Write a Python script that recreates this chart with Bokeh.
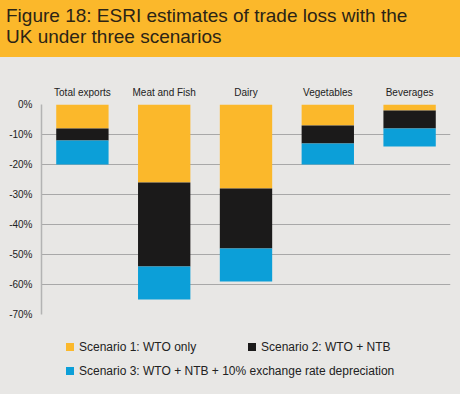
from bokeh.plotting import figure
from bokeh.layouts import column
from bokeh.models import ColumnDataSource, FactorRange, Range1d, FixedTicker, Div
from bokeh.embed import file_html
from bokeh.resources import INLINE

categories = ["Total exports", "Meat and Fish", "Dairy", "Vegetables", "Beverages"]
# cumulative trade loss (%) under each scenario
scenario1 = [-8, -26, -28, -7, -2]
scenario2 = [-12, -54, -48, -13, -8]
scenario3 = [-20, -65, -59, -20, -14]
series_names = ["Scenario 1: WTO only", "Scenario 2: WTO + NTB",
                "Scenario 3: WTO + NTB + 10% exchange rate depreciation"]
y_ticks = [0, -10, -20, -30, -40, -50, -60, -70]
y_tick_labels = ["0%", "-10%", "-20%", "-30%", "-40%", "-50%", "-60%", "-70%"]
title_lines = ["Figure 18: ESRI estimates of trade loss with the", "UK under three scenarios"]

BG = "#e8e7e5"
YELLOW = "#fbb82b"
BLACK = "#1b1a1a"
BLUE = "#0c9fd8"
COLORS = [YELLOW, BLACK, BLUE]
FONT = "Liberation Sans"
W, H = 460, 394
ML, MR = 41, 10

# ---- title band ----
TH = 57
title = Div(text="<div style=\"padding:4.5px 0 0 6px; margin:0; font-family:'Liberation Sans',Arial,sans-serif; "
                 "font-size:19px; line-height:21.4px; color:#2b2416; white-space:nowrap;\">"
                 + "<br>".join(title_lines) + "</div>",
            width=W, height=TH, margin=0,
            styles={"background-color": YELLOW, "overflow": "hidden"})

# ---- main chart ----
MT, FH, MB = 47, 210, 16
p = figure(width=W, height=MT + FH + MB, x_range=FactorRange(*categories, range_padding=0),
           y_range=Range1d(-70, 0), x_axis_location="above",
           output_backend="svg", toolbar_location=None,
           min_border_left=ML, min_border_right=MR, min_border_top=MT, min_border_bottom=MB)
p.background_fill_color = BG
p.border_fill_color = BG
p.outline_line_color = None

src = ColumnDataSource(dict(cat=categories, s0=[0] * len(categories),
                            s1=scenario1, s2=scenario2, s3=scenario3))
bw = 0.64
p.vbar(x="cat", bottom="s0", top="s1", width=bw, source=src, fill_color=YELLOW, line_color=None)
p.vbar(x="cat", bottom="s1", top="s2", width=bw, source=src, fill_color=BLACK, line_color=None)
p.vbar(x="cat", bottom="s2", top="s3", width=bw, source=src, fill_color=BLUE, line_color=None)

xa = p.xaxis[0]
xa.axis_line_color = None
xa.major_tick_line_color = None
xa.minor_tick_line_color = None
xa.major_tick_out = 0
xa.major_label_standoff = 7
xa.major_label_text_font = FONT
xa.major_label_text_font_size = "10px"
xa.major_label_text_color = "#222222"

ya = p.yaxis[0]
ya.ticker = FixedTicker(ticks=y_ticks)
ya.major_label_overrides = {t: l for t, l in zip(y_ticks, y_tick_labels)}
ya.axis_line_color = "#b3b3b3"
ya.axis_line_width = 1.5
ya.major_tick_line_color = None
ya.minor_tick_line_color = None
ya.major_tick_out = 0
ya.major_label_standoff = 9
ya.major_label_text_font = FONT
ya.major_label_text_font_size = "10px"
ya.major_label_text_color = "#222222"

p.xgrid.grid_line_color = None
p.ygrid.ticker = FixedTicker(ticks=y_ticks)
p.ygrid.grid_line_color = "#a8a8a8"
p.ygrid.grid_line_width = 1

# ---- legend strip (HTML) ----
LH = H - TH - (MT + FH + MB)
legend_pos = [(66, 13), (248, 13), (66, 37)]  # swatch left/top within the strip
parts = []
for name, col, (lx, ty) in zip(series_names, COLORS, legend_pos):
    parts.append(f"<span style=\"position:absolute; left:{lx}px; top:{ty}px; width:8px; height:8px; "
                 f"background:{col};\"></span>")
    parts.append(f"<span style=\"position:absolute; left:{lx + 13}px; top:{ty - 3}px; line-height:14px; "
                 f"white-space:nowrap;\">{name}</span>")
legend = Div(text="<div style=\"position:relative; width:460px; height:" + str(LH) + "px; "
                  "font-family:'Liberation Sans',Arial,sans-serif; font-size:12px; color:#222222;\">"
                  + "".join(parts) + "</div>",
             width=W, height=LH, margin=0,
             styles={"background-color": BG, "overflow": "hidden"})

layout = column(title, p, legend, spacing=0, width=W, height=H,
                styles={"background-color": BG, "overflow": "hidden"})
open("out.html", "w").write(file_html(layout, INLINE))
